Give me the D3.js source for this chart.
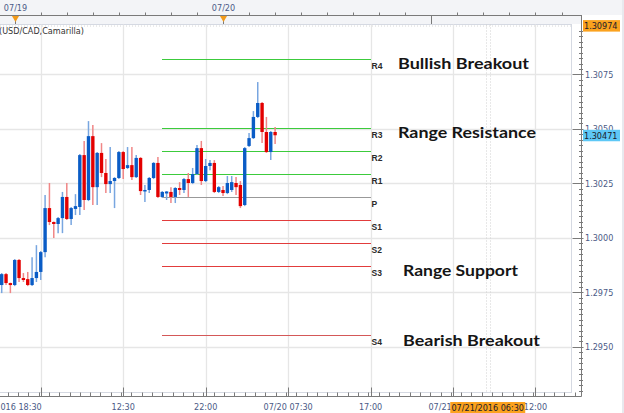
<!DOCTYPE html>
<html>
<head>
<meta charset="utf-8">
<script src="https://cdn.jsdelivr.net/npm/d3@7"></script>
<style>
  html, body { margin: 0; padding: 0; background: #ffffff; }
  svg { display: block; }
  .ax { font-family: "DejaVu Sans Condensed", "DejaVu Sans", sans-serif; font-stretch: condensed; font-size: 9px; }
</style>
</head>
<body>
<svg id="chart" width="624" height="413"></svg>
<script>
// ---------------- DATA ----------------
const candleOpen  = [1.29784,1.29834,1.29793,1.29784,1.29899,1.29816,1.29811,1.29784,1.29816,1.29844,
                     1.29935,1.30137,1.30073,1.30064,1.30091,1.30188,1.30087,1.30133,1.30142,1.30380,
                     1.30174,1.30467,1.30233,1.30390,1.30298,1.30247,1.30261,1.30275,1.30394,1.30321,
                     1.30334,1.30279,1.30367,1.30215,1.30220,1.30275,1.30344,1.30188,1.30204,1.30211,
                     1.30188,1.30229,1.30220,1.30270,1.30252,1.30293,1.30412,1.30261,1.30330,1.30344,
                     1.30211,1.30220,1.30206,1.30220,1.30252,1.30243,1.30151,1.30422,1.30458,1.30555,
                     1.30619,1.30486,1.30394,1.30486];
const candleHigh  = [1.29839,1.29839,1.29795,1.29903,1.29903,1.29839,1.29844,1.29912,1.29967,1.29940,
                     1.30197,1.30252,1.30075,1.30096,1.30211,1.30252,1.30142,1.30201,1.30385,1.30445,
                     1.30536,1.30518,1.30394,1.30435,1.30362,1.30417,1.30279,1.30399,1.30399,1.30417,
                     1.30417,1.30380,1.30371,1.30243,1.30279,1.30348,1.30371,1.30215,1.30215,1.30233,
                     1.30233,1.30256,1.30275,1.30298,1.30321,1.30426,1.30445,1.30362,1.30357,1.30357,
                     1.30238,1.30238,1.30284,1.30284,1.30279,1.30261,1.30417,1.30481,1.30582,1.30715,
                     1.30623,1.30555,1.30490,1.30509];
const candleLow   = [1.29747,1.29784,1.29747,1.29779,1.29798,1.29798,1.29779,1.29779,1.29798,1.29807,
                     1.29912,1.30059,1.30000,1.30022,1.30022,1.30082,1.30059,1.30105,1.30105,1.30128,
                     1.30169,1.30151,1.30151,1.30279,1.30206,1.30206,1.30137,1.30270,1.30270,1.30316,
                     1.30266,1.30275,1.30197,1.30165,1.30206,1.30270,1.30183,1.30183,1.30174,1.30160,
                     1.30160,1.30197,1.30206,1.30188,1.30247,1.30289,1.30243,1.30256,1.30311,1.30206,
                     1.30206,1.30192,1.30201,1.30211,1.30197,1.30137,1.30146,1.30417,1.30454,1.30550,
                     1.30435,1.30390,1.30357,1.30431];
const candleClose = [1.29834,1.29793,1.29784,1.29899,1.29816,1.29807,1.29784,1.29816,1.29844,1.29935,
                     1.30137,1.30073,1.30064,1.30091,1.30188,1.30087,1.30137,1.30146,1.30380,1.30174,
                     1.30467,1.30233,1.30390,1.30298,1.30247,1.30261,1.30275,1.30394,1.30316,1.30334,
                     1.30279,1.30367,1.30215,1.30220,1.30275,1.30344,1.30188,1.30211,1.30213,1.30188,
                     1.30229,1.30220,1.30270,1.30252,1.30293,1.30412,1.30261,1.30330,1.30344,1.30211,
                     1.30233,1.30206,1.30252,1.30256,1.30233,1.30146,1.30412,1.30458,1.30555,1.30619,
                     1.30486,1.30394,1.30486,1.30471];

const levelNames  = ["R4","R3","R2","R1","P","S1","S2","S3","S4"];
const levelValues = [1.30820,1.30503,1.30398,1.30292,1.30187,1.30081,1.29976,1.29870,1.29555];
const levelColors = ["#3ccb3c","#3ccb3c","#3ccb3c","#3ccb3c","#999999","#e23c3c","#e23c3c","#e23c3c","#d45858"];
const levelStartIdx = 37, levelEndIdx = 85;

const noteTexts  = ["Bullish Breakout","Range Resistance","Range Support","Bearish Breakout"];
const noteLevels = ["R4","R3","S3","S4"];

const priceTicks = [1.2950,1.2975,1.3000,1.3025,1.3050,1.3075];
const priceTop = 1.30974, priceLast = 1.30471;

const timeTickIdx    = [9,28,47,66,85,104,123];
const timeTickLabels = ["07/18/2016 18:30","12:30","22:00","07/20 07:30","17:00","07/21 02:30","12:00"];
const dayIdx    = [3,51,99];
const dayLabels = ["07/19","07/20",""];
const cursorIdx = 112, cursorLabel = "07/21/2016 06:30";
const title = "(USD/CAD,Camarilla)";

// ---------------- LAYOUT ----------------
const svg = d3.select("#chart");
const plotL = 0, plotR = 571.5, plotT = 24.5, plotB = 392.5, axisX = 581.5, axisY = 396.5;

const x = d3.scaleLinear().domain([0, 63]).range([1.7, 275.1]);
const y = d3.scaleLinear().domain([1.29275, priceTop]).range([396, 25.6]);
const step = x(1) - x(0);

// top band
svg.append("rect").attr("x",0).attr("y",0).attr("width",624).attr("height",15).attr("fill","#f3f4f7");
svg.append("rect").attr("x",0).attr("y",15).attr("width",axisX).attr("height",9).attr("fill","#f3f4f7");
svg.append("rect").attr("x",622).attr("y",0).attr("width",2).attr("height",413).attr("fill","#e8e9ee");

// plot frame
svg.append("rect").attr("x",plotL-1).attr("y",plotT).attr("width",plotR-plotL+1).attr("height",plotB-plotT)
  .attr("fill","#ffffff").attr("stroke","#d5d9e2").attr("stroke-width",1);
svg.append("line").attr("x1",0).attr("x2",plotR).attr("y1",plotT+1.5).attr("y2",plotT+1.5)
  .attr("stroke","#d6d6d6").attr("stroke-dasharray","1,2");

// grid
const grid = svg.append("g");
grid.selectAll("line.v").data(timeTickIdx).join("line")
  .attr("x1",d=>Math.round(x(d))+0.5).attr("x2",d=>Math.round(x(d))+0.5)
  .attr("y1",plotT).attr("y2",plotB).attr("stroke","#e6e6e6").attr("stroke-width",1.3);
grid.selectAll("line.h").data(priceTicks).join("line")
  .attr("x1",0).attr("x2",plotR).attr("y1",d=>Math.round(y(d))+0.5).attr("y2",d=>Math.round(y(d))+0.5)
  .attr("stroke","#e6e6e6").attr("stroke-width",1.3);
// cursor dotted lines
[-2,2].forEach(o=>{
  svg.append("line").attr("x1",Math.round(x(cursorIdx))+o+0.5).attr("x2",Math.round(x(cursorIdx))+o+0.5)
    .attr("y1",plotT).attr("y2",plotB)
    .attr("stroke","#d0d0d0").attr("stroke-dasharray","1,2");
});

// levels
const lv = svg.append("g");
levelNames.forEach((n,i)=>{
  const yy = Math.round(y(levelValues[i]))+0.5;
  lv.append("line").attr("x1",Math.round(x(levelStartIdx))).attr("x2",Math.round(x(levelEndIdx)))
    .attr("y1",yy).attr("y2",yy)
    .attr("stroke",levelColors[i]).attr("stroke-width",1).attr("shape-rendering","crispEdges");
  lv.append("text").attr("x",x(levelEndIdx)+1).attr("y",yy+9)
    .attr("font-family","Liberation Sans, Arial, sans-serif").attr("font-size",8.5).attr("font-weight","bold")
    .attr("fill","#2a2a2a").text(n);
});

// candles
const idx = d3.range(candleOpen.length);
const cg = svg.append("g");
cg.selectAll("line.w").data(idx).join("line")
  .attr("x1",i=>x(i)).attr("x2",i=>x(i))
  .attr("y1",i=>y(candleHigh[i])).attr("y2",i=>y(candleLow[i]))
  .attr("stroke",i=>candleClose[i]>=candleOpen[i] ? "#78a6e0" : "#f08686").attr("stroke-width",1.5);
const bw = step*0.78;
cg.selectAll("rect.b").data(idx).join("rect")
  .attr("x",i=>x(i)-bw/2).attr("width",bw)
  .attr("y",i=>y(Math.max(candleOpen[i],candleClose[i])))
  .attr("height",i=>Math.max(1.5, Math.abs(y(candleOpen[i])-y(candleClose[i]))))
  .attr("fill",i=>candleClose[i]>=candleOpen[i] ? "#0a5cc6" : "#e30000");

// annotations
const ann = svg.append("g");
const noteX = [398,398,403,403], noteW = [131,138,115,137], noteDy = [9.5,9.5,10,11];
noteTexts.forEach((t,i)=>{
  const lvl = levelValues[levelNames.indexOf(noteLevels[i])];
  ann.append("text").attr("x",noteX[i]).attr("y",y(lvl)+noteDy[i])
    .attr("font-family","Lato, 'Open Sans', sans-serif").attr("font-weight","bold").attr("font-size",16)
    .attr("textLength",noteW[i]).attr("lengthAdjust","spacingAndGlyphs")
    .attr("fill","#151515").text(t);
});

// title
svg.append("text").attr("class","ax").attr("x",-1).attr("y",34).attr("fill","#333").attr("font-size",9.5).text(title);

// top time ruler
svg.append("line").attr("x1",0).attr("x2",axisX).attr("y1",15.5).attr("y2",15.5).attr("stroke","#7a7a7a");
const topTicks = d3.range(3, 132, 6);
svg.selectAll("line.tt").data(topTicks).join("line")
  .attr("x1",d=>Math.round(x(d))+0.5).attr("x2",d=>Math.round(x(d))+0.5)
  .attr("y1",d=>dayIdx.includes(d)?15:12.5).attr("y2",d=>dayIdx.includes(d)?24:15)
  .attr("stroke","#7a7a7a");
dayIdx.forEach((d,i)=>{
  if(!dayLabels[i]) return;
  const cx = Math.round(x(d))+0.5;
  svg.append("path").attr("d",`M${cx-3.5},16 L${cx+3.5},16 L${cx},22 Z`).attr("fill","#f29a1a");
  svg.append("text").attr("class","ax").attr("x",cx).attr("y",11).attr("text-anchor","middle")
    .attr("fill","#4b5a86").text(dayLabels[i]);
});

// right price axis
svg.append("line").attr("x1",axisX).attr("x2",axisX).attr("y1",15).attr("y2",axisY).attr("stroke","#7a7a7a");
const minorP = d3.range(1.29300, priceTop, 0.00025);
svg.selectAll("line.pm").data(minorP).join("line")
  .attr("x1",axisX-2.5).attr("x2",axisX+1.5).attr("y1",d=>Math.round(y(d))+0.5).attr("y2",d=>Math.round(y(d))+0.5)
  .attr("stroke","#7a7a7a");
svg.selectAll("line.pM").data(priceTicks).join("line")
  .attr("x1",axisX-9).attr("x2",axisX+2).attr("y1",d=>Math.round(y(d))+0.5).attr("y2",d=>Math.round(y(d))+0.5)
  .attr("stroke","#7a7a7a");
svg.selectAll("text.pl").data(priceTicks).join("text").attr("class","ax")
  .attr("x",585).attr("y",d=>y(d)+3.5).attr("fill","#4b5a86").text(d=>d.toFixed(4));

// price boxes
function priceBox(v, fill){
  const yy = y(v);
  svg.append("rect").attr("x",583).attr("y",yy-5.5).attr("width",37).attr("height",11.5).attr("fill",fill);
  svg.append("text").attr("class","ax").attr("x",584).attr("y",yy+3.5).attr("fill","#1a1a2a").text(v.toFixed(5));
}
priceBox(priceTop, "#fba21e");
priceBox(priceLast, "#5ec8f6");

// bottom time axis
svg.append("line").attr("x1",0).attr("x2",axisX).attr("y1",axisY).attr("y2",axisY).attr("stroke","#7a7a7a");
const minorT = d3.range(-1, 134, 19/8);
svg.selectAll("line.bm").data(minorT).join("line")
  .attr("x1",d=>Math.round(x(d))+0.5).attr("x2",d=>Math.round(x(d))+0.5)
  .attr("y1",axisY-4).attr("y2",axisY).attr("stroke","#7a7a7a");
svg.selectAll("line.bM").data(timeTickIdx).join("line")
  .attr("x1",d=>Math.round(x(d))+0.5).attr("x2",d=>Math.round(x(d))+0.5)
  .attr("y1",axisY-9).attr("y2",axisY).attr("stroke","#7a7a7a");
svg.selectAll("text.bl").data(timeTickIdx).join("text").attr("class","ax")
  .attr("x",(d,i)=> i===0 ? x(d)+1 : x(d))
  .attr("text-anchor",(d,i)=> i===0 ? "end" : "middle")
  .attr("y",410).attr("fill","#4b5a86").text((d,i)=>timeTickLabels[i]);
// cursor label
const cx0 = x(cursorIdx);
svg.append("rect").attr("x",cx0-37.5).attr("y",402).attr("width",75).attr("height",11).attr("fill","#fba21e");
svg.append("text").attr("class","ax").attr("x",cx0).attr("y",410.5).attr("text-anchor","middle")
  .attr("fill","#1a1a2a").text(cursorLabel);
</script>
</body>
</html>
